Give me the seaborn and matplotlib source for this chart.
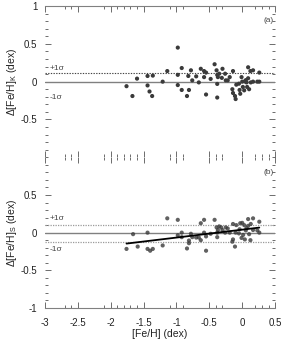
import numpy as np
import pandas as pd
import seaborn as sns
import matplotlib.pyplot as plt
from matplotlib.ticker import FixedLocator, MultipleLocator, FuncFormatter

# panel (a): [Fe/H] vs Delta[Fe/H]_K
feh_a = [-1.76, -1.67, -1.60, -1.44, -1.44, -1.41, -1.37, -1.36, -1.21, -1.14,
         -0.98, -0.98, -0.98, -0.92, -0.92, -0.84, -0.81, -0.82, -0.78, -0.76,
         -0.70, -0.66, -0.63, -0.58, -0.55, -0.58, -0.55, -0.48, -0.42, -0.39,
         -0.38, -0.38, -0.38, -0.37, -0.35, -0.31, -0.30, -0.26, -0.25, -0.22,
         -0.19, -0.14, -0.14, -0.15, -0.11, -0.10, -0.09, -0.05, -0.04, -0.03,
         -0.01, 0.00, 0.01, 0.03, 0.04, 0.055, 0.065, 0.075, 0.09, 0.09,
         0.105, 0.125, 0.13, 0.165, 0.165, 0.23, 0.26, 0.26]
dfeh_k = [-0.06, -0.19, 0.04, 0.075, -0.05, -0.13, -0.19, 0.08, 0.00, 0.14,
          0.45, 0.09, -0.045, 0.18, -0.11, -0.19, -0.11, 0.075, 0.15, 0.017,
          0.07, -0.01, 0.17, 0.14, 0.12, 0.06, -0.17, 0.036, 0.23, 0.15,
          0.09, -0.03, -0.21, 0.06, 0.105, 0.05, 0.17, 0.105, 0.017, 0.017,
          0.06, -0.15, 0.14, -0.10, -0.19, -0.23, -0.04, -0.027, -0.11, -0.16,
          0.06, 0.00, -0.07, -0.115, 0.004, 0.02, -0.01, -0.07, 0.19, 0.045,
          -0.10, 0.14, -0.01, 0.15, 0.00, 0.00, 0.12, 0.00]

# panel (b): [Fe/H] vs Delta[Fe/H]_S
feh_b = [-1.76, -1.66, -1.59, -1.44, -1.44, -1.40, -1.36, -1.21, -1.14, -0.98,
         -0.98, -0.92, -0.92, -0.84, -0.81, -0.81, -0.78, -0.76, -0.70, -0.66,
         -0.63, -0.63, -0.58, -0.58, -0.55, -0.55, -0.48, -0.42, -0.39, -0.38,
         -0.38, -0.37, -0.35, -0.32, -0.30, -0.26, -0.25, -0.22, -0.19, -0.14,
         -0.14, -0.15, -0.11, -0.10, -0.09, -0.05, -0.04, -0.03, -0.01, 0.00,
         0.014, 0.03, 0.04, 0.055, 0.065, 0.09, 0.09, 0.105, 0.125, 0.13,
         0.165, 0.165, 0.23, 0.26, 0.26]
dfeh_s = [-0.216, -0.02, -0.185, 0.00, -0.216, -0.24, -0.216, -0.17, 0.19, 0.17,
          -0.035, 0.00, -0.06, -0.21, -0.105, -0.14, -0.015, -0.06, -0.065, -0.065,
          -0.10, 0.125, 0.17, 0.00, -0.24, -0.05, -0.015, 0.17, 0.07, 0.00,
          -0.06, 0.035, 0.083, 0.07, 0.035, 0.00, 0.07, 0.055, 0.00, -0.09,
          0.115, -0.12, -0.185, 0.00, 0.10, -0.01, 0.045, 0.125, -0.07, 0.13,
          -0.03, 0.10, -0.09, 0.03, 0.06, 0.09, 0.18, -0.02, -0.10, 0.115,
          0.19, 0.035, 0.03, 0.145, 0.00]

sigma_a = 0.115
sigma_b = [0.105, -0.12]
x_major = [-3, -2.5, -2, -1.5, -1, -0.5, 0, 0.5]
x_minor = [-2.7, -2.6, -2.1, -1.9, -1.8, -1.7, -1.6, -1.1, -0.9, -0.4, -0.3, 0.2, 0.3, 0.4]

sns.set_style("ticks")
plt.rcParams['font.family'] = ['Liberation Sans', 'DejaVu Sans']
plt.rcParams['mathtext.fontset'] = 'custom'
plt.rcParams['mathtext.rm'] = 'Liberation Sans'
plt.rcParams['mathtext.it'] = 'Liberation Sans:italic'
plt.rcParams['axes.unicode_minus'] = False

fig = plt.figure(figsize=(2.83, 3.41), dpi=100)
ax_a = fig.add_axes([0.159, 0.5387, 0.813, 0.4437])
ax_b = fig.add_axes([0.159, 0.0968, 0.813, 0.4419])

df_a = pd.DataFrame({"feh": feh_a, "d": dfeh_k})
df_b = pd.DataFrame({"feh": feh_b, "d": dfeh_s})

fmt = FuncFormatter(lambda v, p: f"{v:g}")
gray = "#808080"

for ax in (ax_a, ax_b):
    ax.set_xlim(-3, 0.5)
    ax.set_ylim(-1, 1)
    ax.axhline(0, color=gray, lw=1.0, zorder=1)
    for s in ("left", "right", "top", "bottom"):
        ax.spines[s].set_visible(False)
    ax.xaxis.set_major_locator(FixedLocator(x_major))
    ax.xaxis.set_minor_locator(FixedLocator(x_minor))
    ax.yaxis.set_major_locator(MultipleLocator(0.5))
    ax.yaxis.set_minor_locator(MultipleLocator(0.1))
    ax.xaxis.set_major_formatter(fmt)
    ax.yaxis.set_major_formatter(fmt)
    ax.tick_params(which="both", direction="in", top=True, bottom=True,
                   left=True, right=True, color="#555555", width=0.6,
                   labelsize=7, labelcolor="#222222")
    ax.tick_params(which="major", length=4.5)
    ax.tick_params(which="minor", length=2.5)
    ax.tick_params(axis="y", which="major", pad=5.5)
    ax.tick_params(axis="x", which="major", pad=7)

# panel (a)
sns.scatterplot(data=df_a, x="feh", y="d", ax=ax_a, s=9, color="#3a3a3a",
                edgecolor="none", zorder=3)
ax_a.axhline(sigma_a, color="#444444", lw=0.8, ls=(0, (1.2, 1.2)), zorder=2)
ax_a.spines["top"].set_visible(True)
ax_a.spines["top"].set_color(gray)
ax_a.tick_params(axis="x", labelbottom=False)
ax_a.set_yticks([-0.5, 0, 0.5, 1])
ax_a.set_xlabel("")
ax_a.set_ylabel(r"$\Delta$[Fe/H]$_{\rm K}$ (dex)", fontsize=7.5, color="#222222")
ax_a.text(-2.93, 0.18, "+1\u03c3", fontsize=6, color="#444444", va="center")
ax_a.text(-2.93, -0.21, "-1\u03c3", fontsize=6, color="#444444", va="center")
ax_a.text(0.48, 0.81, "(a)", fontsize=6, color="#444444", ha="right", va="center")

# panel (b)
sns.regplot(data=df_b, x="feh", y="d", ax=ax_b, ci=None, truncate=True,
            scatter_kws=dict(s=9, color="#3a3a3a", edgecolor="none", zorder=3),
            line_kws=dict(color="black", lw=1.3, zorder=4))
for yv in sigma_b:
    ax_b.axhline(yv, color="#9a9a9a", lw=0.9, ls=(0, (1, 1)), zorder=2)
ax_b.spines["bottom"].set_visible(True)
ax_b.spines["bottom"].set_color(gray)
ax_b.set_yticks([-1, -0.5, 0, 0.5])
ax_b.set_xlabel("[Fe/H] (dex)", fontsize=7.5, color="#222222", labelpad=1)
ax_b.set_ylabel(r"$\Delta$[Fe/H]$_{\rm S}$ (dex)", fontsize=7.5, color="#222222")
ax_b.text(-2.93, 0.19, "+1\u03c3", fontsize=6, color="#444444", va="center")
ax_b.text(-2.93, -0.22, "-1\u03c3", fontsize=6, color="#444444", va="center")
ax_b.text(0.48, 0.8, "(b)", fontsize=6, color="#444444", ha="right", va="center")

for ax in (ax_a, ax_b):
    ax.yaxis.set_label_coords(-0.115, 0.5)

fig.savefig("out.png", dpi=100)
